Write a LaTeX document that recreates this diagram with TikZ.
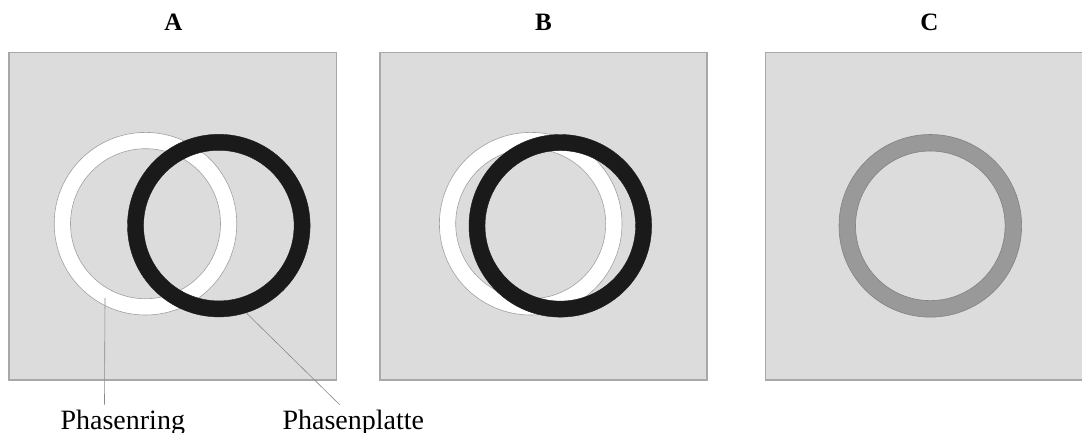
\documentclass[tikz,border=0pt]{standalone}
\usepackage{fontspec}
\setmainfont{Liberation Serif}
\definecolor{panelgray}{HTML}{DCDCDC}
\definecolor{panelborder}{HTML}{A8A8A8}
\definecolor{ringline}{HTML}{A0A0A0}
\definecolor{ringblack}{HTML}{1A1A1A}
\definecolor{ringgray}{HTML}{999999}
\definecolor{leadergray}{HTML}{8A8A8A}
\begin{document}
\begin{tikzpicture}[x=1pt,y=-1pt,
  panel/.style={fill=panelgray,draw=panelborder,line width=1.2pt},
  whitering/.style={fill=white,draw=ringline,line width=0.6pt,even odd rule},
  blackring/.style={fill=ringblack,draw=ringblack,line width=0.4pt,even odd rule},
  grayring/.style={fill=ringgray,draw=ringgray!85!black,line width=0.6pt,even odd rule},
  leader/.style={draw=leadergray,line width=0.6pt},
  title/.style={font=\fontsize{25}{27}\selectfont\bfseries,anchor=base,inner sep=0pt},
  label/.style={font=\fontsize{28}{30}\selectfont,anchor=base,inner sep=0pt}]
\useasboundingbox (0,0) rectangle (1082,432);
\clip (0,0) rectangle (1082,432);
\fill[white] (0,0) rectangle (1082,432);
% panels
\draw[panel] (9,52.3) rectangle (336.7,380);
\draw[panel] (380,52.3) rectangle (707,380);
\draw[panel] (765.3,52.3) rectangle (1095,380);
% titles
\node[title] (tA) at (173.5,30.7) {A};
\node[title] (tB) at (543.5,30.7) {B};
\node[title] (tC) at (929.5,30.7) {C};
% panel A rings
\path[whitering] (145.5,223.7) circle[radius=91.3] (145.5,223.7) circle[radius=75];
\path[blackring] (218.8,225.6) circle[radius=91.3] (218.8,225.6) circle[radius=75.3];
% panel B rings
\path[whitering] (530.7,223.7) circle[radius=91.3] (530.7,223.7) circle[radius=75];
\path[blackring] (560.3,225.8) circle[radius=91.3] (560.3,225.8) circle[radius=75.3];
% panel C ring
\path[grayring] (930.3,225.8) circle[radius=91.3] (930.3,225.8) circle[radius=74.8];
% labels and leaders
\node[label] (ring) at (122.8,429.3) {Phasenring};
\node[label] (platte) at (353.3,429.3) {Phasenplatte};
\coordinate (ringpt) at (105,298);
\coordinate (ringend) at (104.5,404.5);
\coordinate (plattept) at (246.7,313.3);
\coordinate (platteend) at (340,405);
\draw[leader] (ringpt) -- (ringend);
\draw[leader] (plattept) -- (platteend);
\end{tikzpicture}
\end{document}
